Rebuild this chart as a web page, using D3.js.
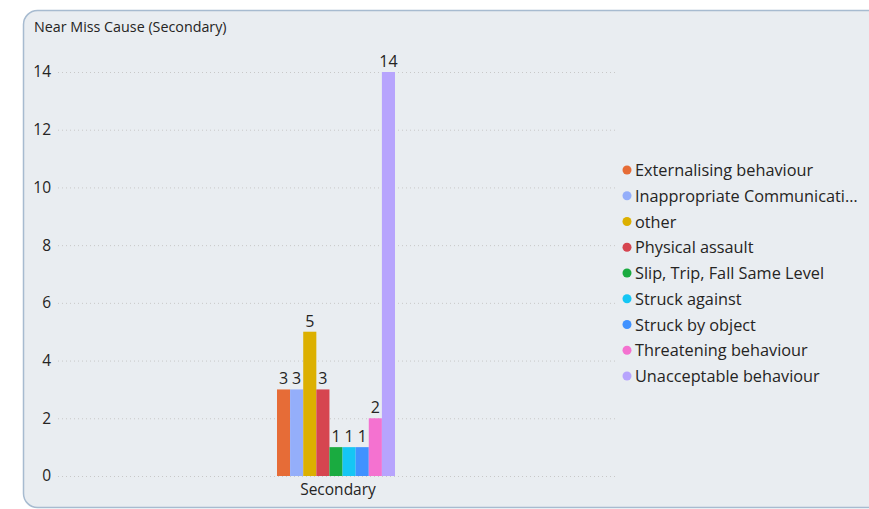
<!DOCTYPE html>
<html><head><meta charset="utf-8">
<script src="https://cdn.jsdelivr.net/npm/d3@7"></script>
<style>html,body{margin:0;padding:0;background:#fff;}svg{display:block;}</style>
</head><body>
<svg id="c" width="869" height="509"></svg>
<script>
const title = "Near Miss Cause (Secondary)";
const categories = ["Secondary"];
const seriesNames = ["Externalising behaviour","Inappropriate Communicati…","other","Physical assault","Slip, Trip, Fall Same Level","Struck against","Struck by object","Threatening behaviour","Unacceptable behaviour"];
const seriesValues = [3,3,5,3,1,1,1,2,14];
const seriesColors = ["#E66C37","#94AEFA","#DCB000","#D64550","#1AAB40","#15C6F4","#4092FF","#F472D0","#B7A4FD"];
const yTicks = [0,2,4,6,8,10,12,14];

const svg = d3.select("#c");
const font = "'Segoe UI','Open Sans','Noto Sans',sans-serif";

svg.append("rect").attr("x",23.5).attr("y",10.5).attr("width",870).attr("height",497)
  .attr("rx",14).attr("fill","#E9EDF1").attr("stroke","#A7BBD0").attr("stroke-width",1.5);

svg.append("text").attr("x",34).attr("y",32).text(title)
  .attr("font-family",font).attr("font-size",14.3).attr("fill","#252423");

const y = d3.scaleLinear().domain([0,14]).range([476,72]);
const x0 = d3.scaleBand().domain(categories).range([58,618]).paddingInner(0).paddingOuter(0);
const x1 = d3.scaleBand().domain(seriesNames).range([277,395]);

const yAxis = svg.append("g").attr("transform","translate(58,0)")
  .call(d3.axisLeft(y).tickValues(yTicks).tickSize(-560).tickFormat(d3.format("d")));
yAxis.select(".domain").remove();
yAxis.selectAll(".tick line").attr("stroke","#C8C8C8").attr("stroke-dasharray","1,3");
yAxis.selectAll(".tick text").attr("x",-7).attr("font-family",font).attr("font-size",15.5).attr("fill","#252423");

const xAxis = svg.append("g").attr("transform","translate(0,476)")
  .call(d3.axisBottom(x0).tickSize(0));
xAxis.select(".domain").remove();
xAxis.selectAll(".tick text").attr("dy",0).attr("y",19).attr("font-family",font).attr("font-size",15.5).attr("fill","#252423");

const data = seriesNames.map((n,i)=>({n,v:seriesValues[i],c:seriesColors[i]}));
svg.append("g").selectAll("rect").data(data).join("rect")
  .attr("x",d=>x1(d.n)).attr("width",x1.bandwidth())
  .attr("y",d=>y(d.v)).attr("height",d=>y(0)-y(d.v)).attr("fill",d=>d.c);
svg.append("g").selectAll("text").data(data).join("text")
  .attr("x",d=>x1(d.n)+x1.bandwidth()/2).attr("y",d=>y(d.v)-5)
  .attr("text-anchor","middle").attr("font-family",font).attr("font-size",16).attr("fill","#252423")
  .text(d=>d.v);

const lg = svg.append("g").selectAll("g").data(data).join("g")
  .attr("transform",(d,i)=>`translate(627,${170+i*25.75})`);
lg.append("circle").attr("r",4.5).attr("cy",0).attr("fill",d=>d.c);
lg.append("text").attr("x",8).attr("y",6).attr("font-family",font).attr("font-size",16.3).attr("fill","#252423").text(d=>d.n);
</script>
</body></html>
